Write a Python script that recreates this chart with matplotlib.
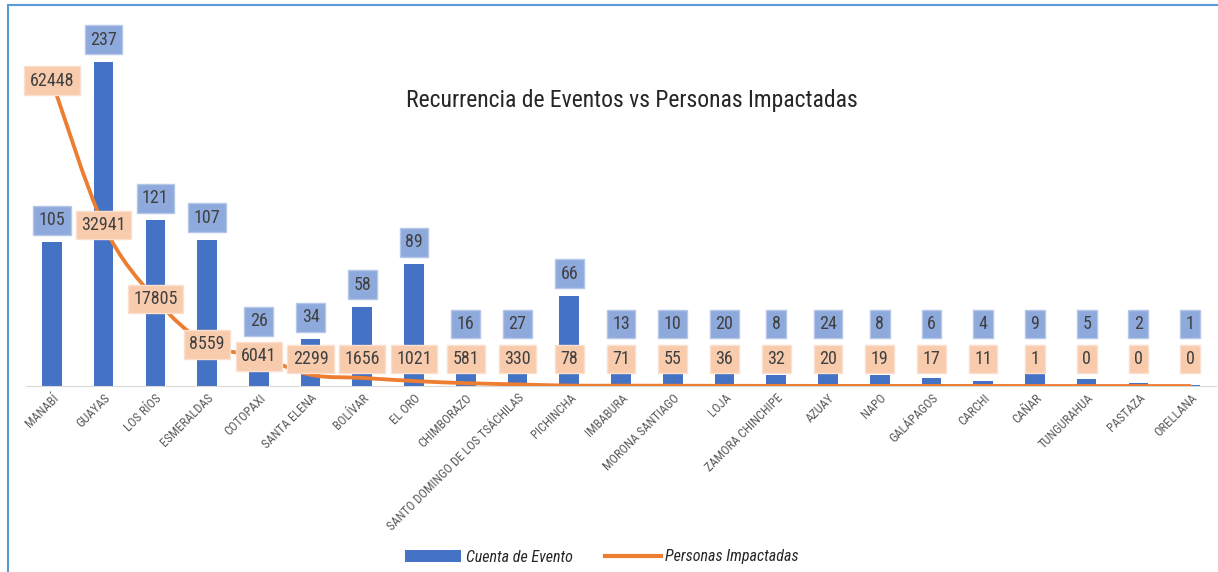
import matplotlib
matplotlib.use("Agg")
import matplotlib.pyplot as plt
import matplotlib.transforms as mtransforms
from matplotlib.path import Path
from matplotlib.patches import PathPatch, Rectangle, Patch
from matplotlib.lines import Line2D
import numpy as np

provinces = ["MANABÍ", "GUAYAS", "LOS RÍOS", "ESMERALDAS", "COTOPAXI", "SANTA ELENA",
             "BOLÍVAR", "EL ORO", "CHIMBORAZO", "SANTO DOMINGO DE LOS TSÁCHILAS",
             "PICHINCHA", "IMBABURA", "MORONA SANTIAGO", "LOJA", "ZAMORA CHINCHIPE",
             "AZUAY", "NAPO", "GALÁPAGOS", "CARCHI", "CAÑAR", "TUNGURAHUA",
             "PASTAZA", "ORELLANA"]
eventCounts = [105, 237, 121, 107, 26, 34, 58, 89, 16, 27, 66, 13, 10, 20, 8,
               24, 8, 6, 4, 9, 5, 2, 1]
peopleImpacted = [62448, 32941, 17805, 8559, 6041, 2299, 1656, 1021, 581, 330, 78,
                  71, 55, 36, 32, 20, 19, 17, 11, 1, 0, 0, 0]

title = "Recurrencia de Eventos vs Personas Impactadas"
barLabel = "Cuenta de Evento"
lineLabel = "Personas Impactadas"

BAR_COLOR = "#4472C4"
LINE_COLOR = "#ED7D31"
BAR_BOX = "#8EA9DB"
LINE_BOX = "#F8CBAD"
TEXT_COLOR = "#404040"
FONT = ["Roboto Condensed", "DejaVu Sans"]

plt.rcParams["font.family"] = FONT
plt.rcParams["font.stretch"] = "condensed"

W, H = 1218, 572
fig = plt.figure(figsize=(W / 100, H / 100), dpi=100)

plotLeft, plotRight, plotTop, plotBottom = 26, 1216, 44, 386
ax = fig.add_axes([plotLeft / W, 1 - plotBottom / H,
                   (plotRight - plotLeft) / W, (plotBottom - plotTop) / H])
ax2 = ax.twinx()

x = np.arange(len(provinces))
ax.bar(x, eventCounts, width=0.38, color=BAR_COLOR, zorder=2)
ax.set_xlim(-0.5, len(provinces) - 0.5)
ax.set_ylim(0, 250)
ax2.set_ylim(0, 70000)

# smoothed line (Catmull-Rom style bezier, like Excel's smoothing)
pts = np.column_stack([x, peopleImpacted]).astype(float)
padded = np.vstack([pts[0], pts, pts[-1]])
verts = [tuple(pts[0])]
codes = [Path.MOVETO]
for i in range(len(pts) - 1):
	p0, p1, p2, p3 = padded[i], padded[i + 1], padded[i + 2], padded[i + 3]
	c1 = p1 + (p2 - p0) / 6
	c2 = p2 - (p3 - p1) / 6
	verts += [tuple(c1), tuple(c2), tuple(p2)]
	codes += [Path.CURVE4] * 3
ax2.add_patch(PathPatch(Path(verts, codes), facecolor="none", edgecolor=LINE_COLOR,
                        linewidth=2.75, capstyle="round", zorder=3))

for a in (ax, ax2):
	for side in ("top", "right", "left"):
		a.spines[side].set_visible(False)
	a.set_yticks([])
ax2.spines["bottom"].set_visible(False)
ax.spines["bottom"].set_color("#D9D9D9")
ax.tick_params(axis="x", length=0, pad=4)
ax.set_xticks(x)
ax.set_xticklabels(provinces, rotation=45, ha="right", va="top",
                   rotation_mode="anchor", fontsize=9, color="#595959")

# data labels
plotHeight = plotBottom - plotTop
blend = mtransforms.blended_transform_factory(ax2.transData, ax2.transAxes)
for xi, count, people in zip(x, eventCounts, peopleImpacted):
	orangeFrac = max(people / 70000, 27 / plotHeight)
	blueFrac = count / 250 + 22 / plotHeight
	if abs(blueFrac - orangeFrac) < 35 / plotHeight:
		blueFrac = orangeFrac + 35 / plotHeight
	ax2.text(xi, orangeFrac, str(people), transform=blend, ha="center", va="center",
	         fontsize=13, color=TEXT_COLOR, zorder=5, clip_on=False,
	         bbox=dict(boxstyle="square,pad=0.3", facecolor=LINE_BOX,
	                   edgecolor="#FBE0CF", linewidth=1))
	ax2.text(xi, blueFrac, str(count), transform=blend, ha="center", va="center",
	         fontsize=13, color=TEXT_COLOR, zorder=5, clip_on=False,
	         bbox=dict(boxstyle="square,pad=0.3", facecolor=BAR_BOX,
	                   edgecolor="#B4C7E7", linewidth=1))

fig.text(632 / W, 1 - 100 / H, title, ha="center", va="center", fontsize=17,
         color="#262626")

handles = [Patch(facecolor=BAR_COLOR, edgecolor="none"),
           Line2D([0], [0], color=LINE_COLOR, linewidth=3)]
fig.legend(handles, [barLabel, lineLabel], loc="center", bbox_to_anchor=(602 / W, 1 - 557 / H),
           ncol=2, frameon=False,
           prop=dict(family=FONT, style="italic", size=11.5, stretch="condensed"),
           handlelength=3.5, columnspacing=2, handletextpad=0.3, labelcolor="#262626")

fig.add_artist(Rectangle((8 / W, -0.1), 1.2, 1 - 5 / H + 0.1, transform=fig.transFigure,
                         facecolor="none", edgecolor="#5B9BD5", linewidth=1.5))

fig.savefig("out.png", dpi=100)
